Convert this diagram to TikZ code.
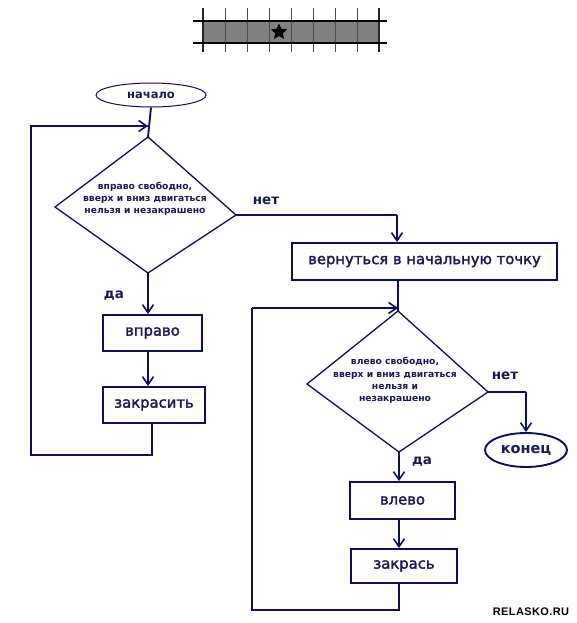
\documentclass[tikz,border=0pt]{standalone}
\usepackage{fontspec}
\setmainfont{DejaVu Sans}
\newfontfamily\medfont[FakeBold=2]{DejaVu Sans}
\newfontfamily\wmfont{Liberation Sans}
\usetikzlibrary{arrows.meta,shapes.geometric}
\definecolor{ln}{RGB}{14,14,95}
\definecolor{tx}{RGB}{26,26,90}
\begin{document}
\begin{tikzpicture}[x=1pt,y=-1pt,
  line width=1.9pt,
  arr/.style={draw=ln,-{Straight Barb[length=8pt,width=11pt,line width=1.6pt]}},
  conn/.style={draw=ln},
  boxnode/.style={draw=ln,line width=1.9pt,rectangle,inner sep=0pt,text=tx,font=\medfont\fontsize{14.8}{17}\selectfont},
  term/.style={draw=ln,ellipse,inner sep=0pt,text=tx},
  lbl/.style={text=tx,font=\bfseries\fontsize{13.5}{15}\selectfont,inner sep=0pt},
  dtext/.style={text=tx,align=center,inner sep=0pt},
  diam/.style={draw=ln,line width=1.3pt}]
\useasboundingbox[fill=white] (0,0) rectangle (577,623);
% top grid strip
\fill[black!50] (203,21) rectangle (379,43);
\foreach \i in {1,...,7}{\draw[black!70,line width=0.9pt] (203+22*\i,8) -- (203+22*\i,52);}
\draw[black!85,line width=2pt] (203,8) -- (203,52);
\draw[black!85,line width=2pt] (379,8) -- (379,52);
\draw[black,line width=1.8pt] (193,21) -- (387,21);
\draw[black,line width=1.8pt] (193,43) -- (387,43);
\node[star,star points=5,star point ratio=2.1,fill=black,inner sep=0pt,minimum size=17pt] (star) at (279,32) {};
% start
\node[term,line width=1pt,minimum width=110pt,minimum height=24pt,font=\bfseries\fontsize{11.5}{13}\selectfont] (start) at (151,95) {начало};
% diamond 1
\coordinate (d1t) at (148,137);
\coordinate (d1l) at (55,207);
\coordinate (d1r) at (236,215);
\coordinate (d1b) at (148,273);
\draw[diam] (d1t) -- (d1r) -- (d1b) -- (d1l) -- cycle;
\node[dtext,font=\bfseries\fontsize{9.2}{11.7}\selectfont] (d1txt) at (145,199) {вправо свободно,\\вверх и вниз двигаться\\нельзя и незакрашено};
% left branch
\node[boxnode,minimum width=99pt,minimum height=36pt] (right) at (152.5,333) {вправо};
\node[boxnode,minimum width=102pt,minimum height=36pt] (paint1) at (154,405) {закрасить};
\node[lbl] (yes1) at (114,296) {да};
\coordinate (j1) at (148,126);
\coordinate (l1a) at (152,455);
\coordinate (l1b) at (31,455);
\coordinate (l1c) at (31,126);
\draw[conn] (start.south) -- (d1t);
\draw[arr] (d1b) -- (right.north -| d1b);
\draw[arr] (right.south -| d1b) -- (paint1.north -| d1b);
\draw[conn] (paint1.south -| l1a) -- (l1a) -- (l1b) -- (l1c) -- (j1);
\draw[arr] (l1c) -- (j1);
% no branch 1
\node[lbl] (no1) at (266,201) {нет};
\node[boxnode,minimum width=265pt,minimum height=37pt] (back) at (424.5,261.5) {вернуться в начальную точку};
\coordinate (n1) at (397,215);
\draw[conn] (d1r) -- (n1);
\draw[arr] (n1) -- (back.north -| n1);
% diamond 2
\coordinate (d2t) at (398,311);
\coordinate (d2l) at (307,384);
\coordinate (d2r) at (488,392);
\coordinate (d2b) at (399,452);
\draw[diam] (d2t) -- (d2r) -- (d2b) -- (d2l) -- cycle;
\node[dtext,font=\bfseries\fontsize{9.2}{12.3}\selectfont] (d2txt) at (395,380.5) {влево свободно,\\вверх и вниз двигаться\\нельзя и\\незакрашено};
\draw[conn] (back.south -| d2t) -- (d2t);
% no branch 2
\node[lbl] (no2) at (505,376) {нет};
\node[term,line width=1.9pt,minimum width=82pt,minimum height=34pt,font=\bfseries\fontsize{14.5}{16}\selectfont] (end) at (526,450) {конец};
\coordinate (n2) at (526,392);
\draw[conn] (d2r) -- (n2);
\draw[arr] (n2) -- (end.north);
% yes branch 2
\node[lbl] (yes2) at (422,462) {да};
\node[boxnode,minimum width=105pt,minimum height=37pt] (left) at (402.5,500.5) {влево};
\node[boxnode,minimum width=106pt,minimum height=34pt] (paint2) at (404,566) {закрась};
\draw[arr] (d2b) -- (left.north -| d2b);
\draw[arr] (left.south -| d2b) -- (paint2.north -| d2b);
\coordinate (l2a) at (399,610);
\coordinate (l2b) at (252,610);
\coordinate (l2c) at (252,308);
\coordinate (j2) at (398,308);
\draw[conn] (paint2.south -| l2a) -- (l2a) -- (l2b) -- (l2c);
\draw[arr] (l2c) -- (j2);
% watermark
\node[inner sep=0pt,font=\wmfont\bfseries\fontsize{11}{11}\selectfont] (wm) at (531,612) {R\kern0.4pt E\kern0.4pt L\kern0.4pt A\kern0.4pt S\kern0.4pt K\kern0.4pt O\kern0.4pt .\kern0.4pt R\kern0.4pt U};
\end{tikzpicture}
\end{document}
